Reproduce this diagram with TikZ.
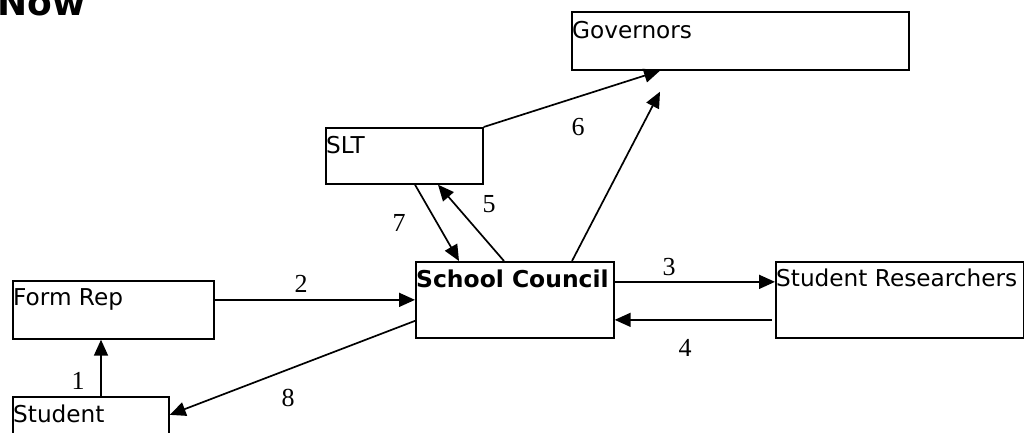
\documentclass[tikz,border=0pt]{standalone}
\usepackage{fontspec}
\usepackage{graphicx}
\setmainfont{Liberation Serif}
\newfontfamily\boxfont{DejaVu Sans}
\usetikzlibrary{arrows.meta,calc}
\tikzset{
  box/.style={draw, line width=1.7pt, rectangle, inner sep=0pt, anchor=north west},
  boxtext/.style={anchor=base west, inner sep=0pt, font=\boxfont\fontsize{23.2}{26}\selectfont},
  num/.style={inner sep=0pt, font=\fontsize{26}{29}\selectfont},
  link/.style={line width=1.7pt},
  flow/.style={link, -{Triangle[length=16pt,width=14pt]}}
}
\begin{document}
\begin{tikzpicture}[x=1pt,y=-1pt]
\path[use as bounding box, clip] (0,0) rectangle (1024,432);
\fill[white] (0,0) rectangle (1024,432);

% title
\node[anchor=base west, inner sep=0pt, font=\boxfont\bfseries\fontsize{36}{40}\selectfont] (title) at (-3,15) {Now};

% boxes
\node[box, minimum width=337pt, minimum height=58pt] (gov) at (571,11) {};
\node[box, minimum width=157pt, minimum height=56pt] (slt) at (325,127) {};
\node[box, minimum width=198pt, minimum height=76pt] (sc) at (415,261) {};
\node[box, minimum width=248pt, minimum height=76pt] (sr) at (775,261) {};
\node[box, minimum width=201pt, minimum height=58pt] (fr) at (12,280) {};
\node[box, minimum width=156pt, minimum height=58pt] (st) at (12,396) {};

% box captions
\node[boxtext] (govt) at ([shift={(1pt,-27pt)}]gov.north west) {Governors};
\node[boxtext] (sltt) at ([shift={(1pt,-26pt)}]slt.north west) {SLT};
\node[boxtext, font=\boxfont\bfseries\fontsize{23.2}{26}\selectfont] (sct) at ([shift={(1pt,-26pt)}]sc.north west) {\scalebox{1.01}[1]{School Council}};
\node[boxtext] (srt) at ([shift={(1pt,-25pt)}]sr.north west) {Student Researchers};
\node[boxtext] (frt) at ([shift={(1pt,-25pt)}]fr.north west) {Form Rep};
\node[boxtext] (stt) at ([shift={(1pt,-26pt)}]st.north west) {Student};

% connectors
\coordinate (govgap) at ([shift={(89pt,-21pt)}]gov.south west);
\draw[flow] ([xshift=89pt]st.north west) -- ([xshift=89pt]fr.south west);
\draw[flow] (fr.east |- sc.west) -- (sc.west);
\draw[flow] ([yshift=18pt]sc.east) -- ([yshift=18pt]sr.west);
\draw[flow] ([shift={(-3pt,-20pt)}]sr.west) -- ([yshift=-20pt]sc.east);
\draw[flow] ([xshift=89pt]sc.north west) -- ([xshift=113pt]slt.south west);
\draw[flow] ([xshift=90pt]slt.south west) -- ([xshift=44pt]sc.north west);
\draw[flow] (slt.north east) -- ([xshift=89pt]gov.south west);
\draw[flow] ([xshift=157pt]sc.north west) -- (govgap);
\draw[flow] ([yshift=-21pt]sc.west) -- ([yshift=11pt]st.east);

% step numbers
\node[num] (n1) at (78,381) {1};
\node[num] (n2) at (301,284) {2};
\node[num] (n3) at (669,267) {3};
\node[num] (n4) at (685,348) {4};
\node[num] (n5) at (489,204) {5};
\node[num] (n6) at (578,127) {6};
\node[num] (n7) at (399,223) {7};
\node[num] (n8) at (288,398) {8};
\end{tikzpicture}
\end{document}
